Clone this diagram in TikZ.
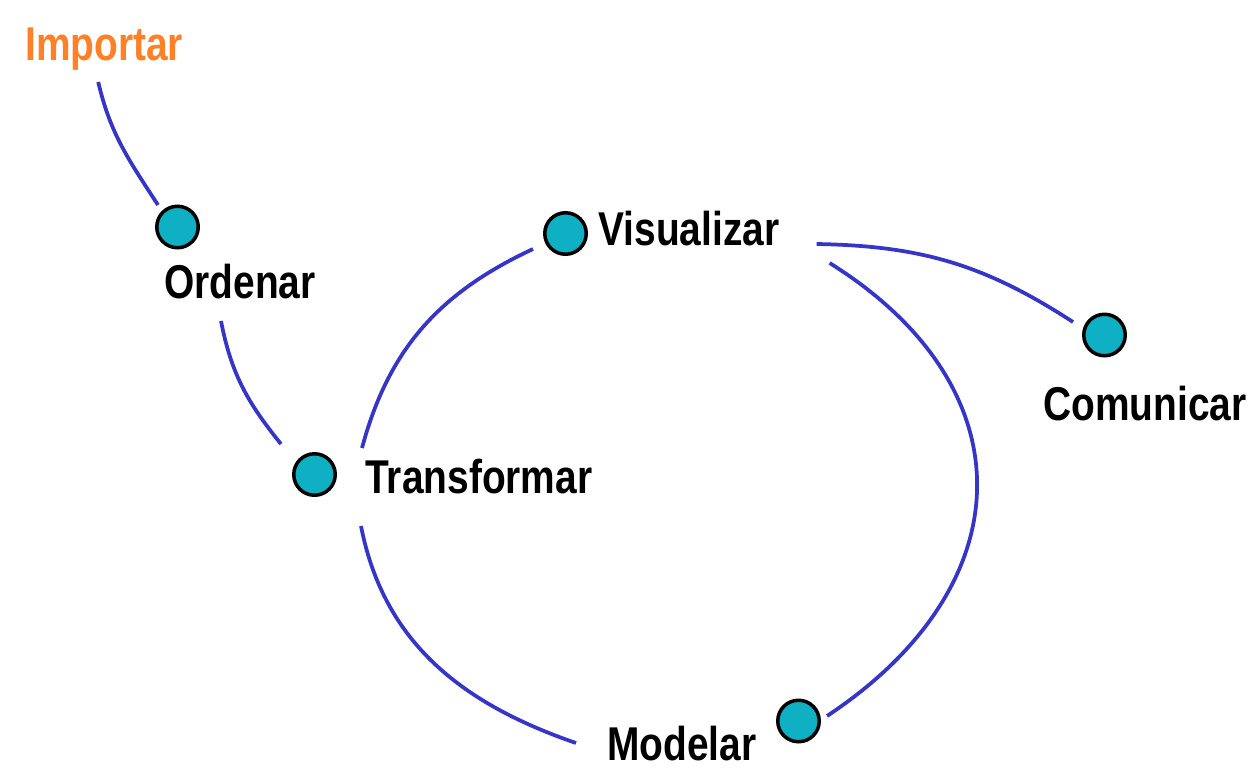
\documentclass[tikz,border=0pt]{standalone}
\usepackage{fontspec}
\setmainfont{Liberation Sans}[FakeStretch=0.82]
\usepackage{xcolor}
\usepackage{tikz}
\definecolor{cDot}{HTML}{10B0C4}
\definecolor{cLink}{HTML}{3535C8}
\definecolor{cStart}{HTML}{FF8027}

\begin{document}
\begin{tikzpicture}[
  x=0.02cm, y=0.02cm,
  every node/.style={font=\fontsize{27}{32}\selectfont\bfseries},
  dot/.style={circle, draw=black, line width=0.07cm, fill=cDot, minimum size=0.83cm, inner sep=0pt},
  lbl/.style={inner sep=0pt, anchor=base west},
  link/.style={line width=0.075cm, draw=cLink}
]
\useasboundingbox (0,0) rectangle (1250,-781);

\node[lbl, text=cStart] (imp) at (25,-60) {Importar};
\node[dot] (ord) at (177.5,-227) {};
\node[lbl] (ordl) at (164,-298) {Ordenar};
\node[dot] (trf) at (314.5,-474.5) {};
\node[lbl] (trfl) at (365,-493) {Transformar};
\node[dot] (vis) at (565.5,-233.5) {};
\node[lbl] (visl) at (598,-245) {Visualizar};
\node[dot] (com) at (1104.5,-335) {};
\node[lbl] (coml) at (1043,-420) {Comunicar};
\node[dot] (mod) at (798.5,-721) {};
\node[lbl] (modl) at (607,-760) {Modelar};

\draw[link] ([shift={(-6,-22)}]imp.base) to[out=-77, in=123] ([shift={(-19.5,22)}]ord.center);
\draw[link] ([shift={(-19,-23)}]ordl.base) to[out=-79, in=129] ([shift={(-33.5,30.5)}]trf.center);
\draw[link] ([shift={(-3,45)}]trfl.base west) to[out=75, in=-155] ([shift={(-32.5,-15.5)}]vis.center);
\draw[link] ([shift={(-4,-33)}]trfl.base west) to[out=-79, in=161] ([shift={(-31,17)}]modl.base west);
\draw[link] ([shift={(37,1)}]visl.base east) to[out=-1, in=147] ([shift={(-31.5,13)}]com.center);
\draw[link] ([shift={(50,-18)}]visl.base east) to[out=-32, in=33.5, looseness=1.33] ([shift={(28.5,5)}]mod.center);
\end{tikzpicture}
\end{document}
